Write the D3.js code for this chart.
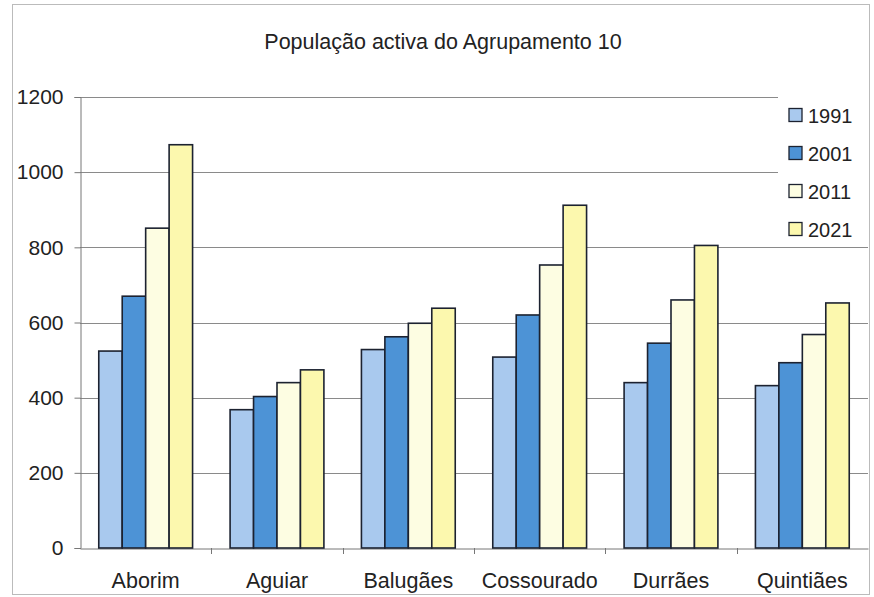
<!DOCTYPE html>
<html lang="pt">
  <head>
    <meta charset="UTF-8" />
    <title>População activa do Agrupamento 10</title>
    <script src="https://d3js.org/d3.v7.min.js"></script>
    <style>
      body {
        margin: 0;
        background: #fff;
      }
      svg text {
        font-family: "Liberation Sans", Arial, sans-serif;
        fill: #222;
      }
    </style>
  </head>
  <body>
    <div id="chart"></div>
    <script>
      // dados
      const freguesias = ["Aborim", "Aguiar", "Balugães", "Cossourado", "Durrães", "Quintiães"];
      const anos = ["1991", "2001", "2011", "2021"];
      const valores1991 = [524, 368, 528, 508, 440, 432];
      const valores2001 = [670, 403, 562, 620, 545, 493];
      const valores2011 = [851, 440, 598, 753, 660, 568];
      const valores2021 = [1073, 474, 638, 912, 805, 652];
      const yTicks = [0, 200, 400, 600, 800, 1000, 1200];
      const cores = ["#a9c9ee", "#4d93d6", "#fdfde2", "#fcf8ae"];

      const series = [valores1991, valores2001, valores2011, valores2021];
      const data = freguesias.map((f, i) => ({
        nome: f,
        valores: anos.map((a, j) => ({ ano: a, valor: series[j][i] })),
      }));

      const width = 874,
        height = 597;
      const plot = { left: 80, right: 868, top: 97, bottom: 548 };

      const svg = d3
        .select("#chart")
        .append("svg")
        .attr("width", width)
        .attr("height", height);

      // moldura do gráfico
      svg
        .append("rect")
        .attr("x", 12.5)
        .attr("y", 4.5)
        .attr("width", 857)
        .attr("height", 590)
        .attr("fill", "none")
        .attr("stroke", "#bbb");

      const x0 = d3
        .scaleBand()
        .domain(freguesias)
        .range([plot.left, plot.right]);

      const x1 = d3
        .scaleBand()
        .domain(anos)
        .range([0, x0.bandwidth()])
        .paddingInner(0)
        .paddingOuter(0.8);

      const y = d3
        .scaleLinear()
        .domain([0, 1200])
        .range([plot.bottom, plot.top]);

      const color = d3.scaleOrdinal().domain(anos).range(cores);

      // linhas de grelha
      svg
        .append("g")
        .selectAll("line")
        .data(yTicks.filter((d) => d > 0))
        .join("line")
        .attr("x1", plot.left)
        .attr("x2", plot.right)
        .attr("y1", (d) => Math.round(y(d)) + 0.5)
        .attr("y2", (d) => Math.round(y(d)) + 0.5)
        .attr("stroke", "#8a8a8a");

      // eixo y
      const yAxis = svg
        .append("g")
        .attr("transform", `translate(${plot.left + 0.5},0)`)
        .call(
          d3
            .axisLeft(y)
            .tickValues(yTicks)
            .tickFormat(d3.format("d"))
            .tickSize(6)
            .tickPadding(11)
        );
      yAxis.select(".domain").attr("stroke", "#777");
      yAxis.selectAll(".tick line").attr("stroke", "#777");
      yAxis.selectAll("text").attr("font-size", 21).attr("fill", "#222");

      // eixo x
      const xAxis = svg
        .append("g")
        .attr("transform", `translate(0,${plot.bottom + 0.5})`)
        .call(d3.axisBottom(x0).tickSize(0).tickPadding(24));
      xAxis.select(".domain").attr("stroke", "#777");
      xAxis.selectAll("text").attr("font-size", 21.5).attr("fill", "#222");

      // marcas entre categorias
      svg
        .append("g")
        .selectAll("line")
        .data(freguesias.slice(1))
        .join("line")
        .attr("x1", (d) => Math.round(x0(d)) + 0.5)
        .attr("x2", (d) => Math.round(x0(d)) + 0.5)
        .attr("y1", plot.bottom)
        .attr("y2", plot.bottom + 6)
        .attr("stroke", "#777");

      // barras
      svg
        .append("g")
        .selectAll("g")
        .data(data)
        .join("g")
        .attr("transform", (d) => `translate(${x0(d.nome)},0)`)
        .selectAll("rect")
        .data((d) => d.valores)
        .join("rect")
        .attr("x", (d) => x1(d.ano))
        .attr("y", (d) => y(d.valor))
        .attr("width", x1.bandwidth())
        .attr("height", (d) => y(0) - y(d.valor))
        .attr("fill", (d) => color(d.ano))
        .attr("stroke", "#1c2230")
        .attr("stroke-width", 1.6);

      // título
      svg
        .append("text")
        .attr("x", 443)
        .attr("y", 49)
        .attr("text-anchor", "middle")
        .attr("font-size", 21.5)
        .text("População activa do Agrupamento 10");

      // legenda
      const legend = svg.append("g");
      legend
        .append("rect")
        .attr("x", 778)
        .attr("y", 94)
        .attr("width", 90)
        .attr("height", 152)
        .attr("fill", "#fff");

      const item = legend
        .selectAll("g")
        .data(anos)
        .join("g")
        .attr("transform", (d, i) => `translate(789,${115 + i * 38})`);
      item
        .append("rect")
        .attr("x", 0)
        .attr("y", -6.5)
        .attr("width", 13)
        .attr("height", 13)
        .attr("fill", (d) => color(d))
        .attr("stroke", "#1c2230")
        .attr("stroke-width", 1.3);
      item
        .append("text")
        .attr("x", 19)
        .attr("y", 7.5)
        .attr("font-size", 20)
        .text((d) => d);
    </script>
  </body>
</html>
